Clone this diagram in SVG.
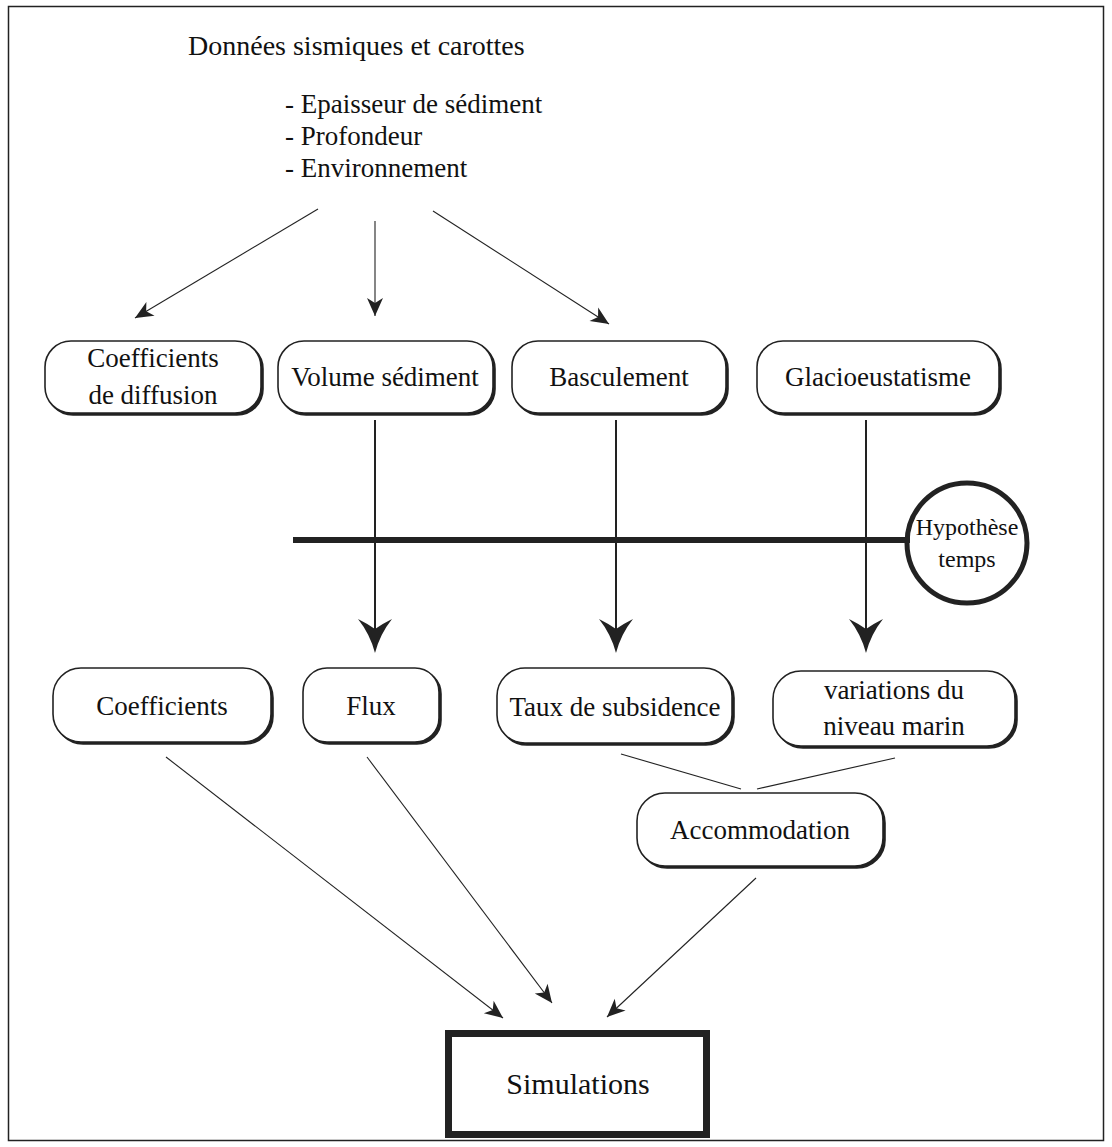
<svg xmlns="http://www.w3.org/2000/svg" width="1112" height="1147" viewBox="0 0 1112 1147">
<style>
  text { font-family: "Liberation Serif", "Times New Roman", serif; fill: #111; }
  .t { font-size: 27px; text-anchor: middle; }
  .box { fill: #fff; stroke: #222; stroke-width: 1.6; }
  .shadow { fill: #222; stroke: #222; stroke-width: 1.6; }
  .thin { stroke: #222; stroke-width: 1.1; fill: none; }
  .mid { stroke: #222; stroke-width: 2; fill: none; }
  .head { fill: #222; stroke: none; }
  .list { font-size: 27px; }
</style>
<defs>
  <marker id="arr" markerUnits="userSpaceOnUse" markerWidth="22" markerHeight="22" viewBox="-20 -10 22 20" refX="0" refY="0" orient="auto">
    <path d="M0,0 L-18,-8 L-13,0 L-18,8 Z" fill="#222"/>
  </marker>
</defs>
<rect x="8.5" y="6.5" width="1095" height="1134" fill="#fff" stroke="#222" stroke-width="1.5"/>

<g id="source">
  <text x="188" y="55" style="font-size:28px">Données sismiques et carottes</text>
  <text class="list" x="285" y="113">- Epaisseur de sédiment</text>
  <text class="list" x="285" y="145">- Profondeur</text>
  <text class="list" x="285" y="177">- Environnement</text>
</g>

<g id="n-coefdiff">
  <rect class="shadow" x="47" y="343" width="216" height="72" rx="26"/>
  <rect class="box" x="45" y="341" width="216" height="72" rx="26"/>
  <text class="t" x="153" y="367">Coefficients</text>
  <text class="t" x="153" y="404">de diffusion</text>
</g>
<g id="n-volume">
  <rect class="shadow" x="280" y="343" width="215" height="72" rx="26"/>
  <rect class="box" x="278" y="341" width="215" height="72" rx="26"/>
  <text class="t" x="385" y="386">Volume sédiment</text>
</g>
<g id="n-bascul">
  <rect class="shadow" x="514" y="343" width="214" height="72" rx="26"/>
  <rect class="box" x="512" y="341" width="214" height="72" rx="26"/>
  <text class="t" x="619" y="386">Basculement</text>
</g>
<g id="n-glacio">
  <rect class="shadow" x="759" y="343" width="242" height="72" rx="26"/>
  <rect class="box" x="757" y="341" width="242" height="72" rx="26"/>
  <text class="t" x="878" y="386">Glacioeustatisme</text>
</g>

<g id="n-hypo">
  <circle cx="967" cy="543" r="60" fill="#fff" stroke="#222" stroke-width="5"/>
  <text class="t" x="967" y="535" style="font-size:24px">Hypothèse</text>
  <text class="t" x="967" y="567" style="font-size:24px">temps</text>
</g>

<g id="n-coef">
  <rect class="shadow" x="55" y="670" width="218" height="74" rx="28"/>
  <rect class="box" x="53" y="668" width="218" height="74" rx="28"/>
  <text class="t" x="162" y="715">Coefficients</text>
</g>
<g id="n-flux">
  <rect class="shadow" x="305" y="670" width="136" height="74" rx="24"/>
  <rect class="box" x="303" y="668" width="136" height="74" rx="24"/>
  <text class="t" x="371" y="715">Flux</text>
</g>
<g id="n-taux">
  <rect class="shadow" x="499" y="670" width="235" height="75" rx="28"/>
  <rect class="box" x="497" y="668" width="235" height="75" rx="28"/>
  <text class="t" x="615" y="716">Taux de subsidence</text>
</g>
<g id="n-var">
  <rect class="shadow" x="775" y="673" width="242" height="75" rx="28"/>
  <rect class="box" x="773" y="671" width="242" height="75" rx="28"/>
  <text class="t" x="894" y="699">variations du</text>
  <text class="t" x="894" y="735">niveau marin</text>
</g>
<g id="n-acc">
  <rect class="shadow" x="639" y="795" width="246" height="73" rx="28"/>
  <rect class="box" x="637" y="793" width="246" height="73" rx="28"/>
  <text class="t" x="760" y="839">Accommodation</text>
</g>

<g id="n-sim">
  <rect x="448.5" y="1033.5" width="258" height="101" fill="#fff" stroke="#222" stroke-width="7"/>
  <text class="t" x="578" y="1094" style="font-size:30px">Simulations</text>
</g>

<g id="connectors">
  <line class="thin" x1="318" y1="209" x2="135" y2="318" marker-end="url(#arr)"/>
  <line class="thin" x1="375" y1="221" x2="375" y2="316" marker-end="url(#arr)"/>
  <line class="thin" x1="433" y1="211" x2="609" y2="324" marker-end="url(#arr)"/>

  <line x1="293" y1="540" x2="910" y2="540" stroke="#222" stroke-width="6"/>

  <line class="mid" x1="375" y1="420" x2="375" y2="632"/>
  <path class="head" d="M375,653 Q370,634 358,619 Q368,624 375,629 Q382,624 392,619 Q380,634 375,653 Z"/>
  <line class="mid" x1="616" y1="420" x2="616" y2="632"/>
  <path class="head" d="M616,653 Q611,634 599,619 Q609,624 616,629 Q623,624 633,619 Q621,634 616,653 Z"/>
  <line class="mid" x1="866" y1="420" x2="866" y2="632"/>
  <path class="head" d="M866,653 Q861,634 849,619 Q859,624 866,629 Q873,624 883,619 Q871,634 866,653 Z"/>

  <line class="thin" x1="621" y1="754" x2="741" y2="789"/>
  <line class="thin" x1="895" y1="758" x2="757" y2="789"/>

  <line class="thin" x1="166" y1="757" x2="503" y2="1018" marker-end="url(#arr)"/>
  <line class="thin" x1="367" y1="757" x2="552" y2="1003" marker-end="url(#arr)"/>
  <line class="thin" x1="756" y1="878" x2="607" y2="1017" marker-end="url(#arr)"/>
</g>
</svg>
